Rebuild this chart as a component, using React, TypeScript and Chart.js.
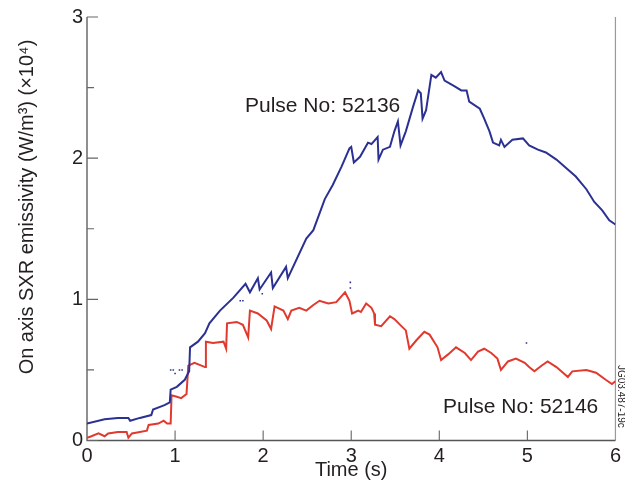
import React, { useEffect, useRef } from "react";
import { Chart, registerables } from "chart.js";

Chart.register(...registerables);

// Pulse No: 52136 (blue) — [time (s), emissivity (×10^4 W/m^3)]
const pulse52136: [number, number][] = [
  [0, 0.12], [0.2, 0.15], [0.35, 0.16], [0.47, 0.16], [0.49, 0.14], [0.6, 0.16],
  [0.73, 0.18], [0.75, 0.22], [0.88, 0.25], [0.94, 0.27], [0.95, 0.36], [1.02, 0.38],
  [1.11, 0.43], [1.16, 0.49], [1.17, 0.66], [1.26, 0.7], [1.34, 0.76], [1.39, 0.83],
  [1.51, 0.92], [1.66, 1.01], [1.8, 1.11], [1.85, 1.05], [1.94, 1.15], [1.96, 1.07],
  [2.09, 1.19], [2.11, 1.08], [2.26, 1.23], [2.28, 1.15], [2.49, 1.43], [2.57, 1.49],
  [2.7, 1.71], [2.79, 1.81], [2.89, 1.94], [2.98, 2.07], [3.0, 2.08], [3.03, 1.97],
  [3.1, 2.01], [3.19, 2.11], [3.23, 2.1], [3.3, 2.15], [3.31, 1.99], [3.36, 2.06],
  [3.44, 2.08], [3.49, 2.19], [3.53, 2.26], [3.56, 2.09], [3.62, 2.19], [3.7, 2.36],
  [3.76, 2.48], [3.79, 2.46], [3.81, 2.28], [3.85, 2.34], [3.91, 2.59], [3.96, 2.57],
  [4.02, 2.61], [4.06, 2.55], [4.17, 2.51], [4.25, 2.48], [4.31, 2.48], [4.34, 2.4],
  [4.46, 2.35], [4.51, 2.28], [4.57, 2.19], [4.61, 2.11], [4.68, 2.09], [4.7, 2.13],
  [4.74, 2.08], [4.83, 2.13], [4.95, 2.14], [5.02, 2.09], [5.12, 2.06], [5.21, 2.04],
  [5.33, 1.99], [5.44, 1.93], [5.55, 1.87], [5.67, 1.78], [5.76, 1.69], [5.85, 1.63],
  [5.93, 1.56], [6.0, 1.53],
];

// Pulse No: 52146 (red)
const pulse52146: [number, number][] = [
  [0, 0.02], [0.05, 0.03], [0.13, 0.05], [0.2, 0.03], [0.24, 0.05], [0.35, 0.06],
  [0.45, 0.06], [0.47, 0.02], [0.51, 0.05], [0.68, 0.07], [0.7, 0.11], [0.81, 0.12],
  [0.87, 0.14], [0.91, 0.12], [0.95, 0.12], [0.96, 0.32], [1.02, 0.31], [1.07, 0.3],
  [1.13, 0.33], [1.15, 0.53], [1.22, 0.55], [1.3, 0.53], [1.34, 0.52], [1.35, 0.7],
  [1.43, 0.69], [1.55, 0.7], [1.58, 0.65], [1.59, 0.83], [1.7, 0.84], [1.77, 0.82],
  [1.83, 0.73], [1.85, 0.92], [1.94, 0.9], [2.04, 0.85], [2.09, 0.79], [2.13, 0.95],
  [2.23, 0.92], [2.28, 0.86], [2.32, 0.92], [2.41, 0.94], [2.49, 0.92], [2.57, 0.96],
  [2.64, 0.99], [2.74, 0.97], [2.83, 0.98], [2.93, 1.05], [2.98, 0.99], [3.01, 0.9],
  [3.08, 0.92], [3.11, 0.91], [3.17, 0.97], [3.23, 0.94], [3.26, 0.9], [3.27, 0.82],
  [3.34, 0.81], [3.44, 0.88], [3.49, 0.86], [3.57, 0.81], [3.62, 0.78], [3.66, 0.65],
  [3.74, 0.71], [3.83, 0.77], [3.89, 0.75], [3.98, 0.66], [4.02, 0.57], [4.1, 0.61],
  [4.19, 0.66], [4.29, 0.62], [4.36, 0.57], [4.44, 0.63], [4.51, 0.65], [4.59, 0.62],
  [4.66, 0.58], [4.7, 0.5], [4.78, 0.56], [4.87, 0.58], [4.97, 0.55], [5.02, 0.52],
  [5.08, 0.49], [5.16, 0.53], [5.23, 0.56], [5.33, 0.52], [5.46, 0.45], [5.51, 0.49],
  [5.67, 0.5], [5.78, 0.48], [5.89, 0.43], [5.96, 0.4], [6.0, 0.42],
];

// stray blue sample points
const strayPoints: [number, number][] = [
  [0.95, 0.5], [0.98, 0.5], [1.05, 0.5], [1.08, 0.5], [1.0, 0.475],
  [1.74, 0.99], [1.77, 0.99], [1.99, 1.04], [2.99, 1.12], [2.99, 1.08], [4.99, 0.69],
];

const xTickValues = [0, 1, 2, 3, 4, 5, 6];
const yTickValues = [0, 1, 2, 3];
const yMinorTickValues = [0.5, 1.5, 2.5];
const xTitle = "Time (s)";
const yTitle = "On axis SXR emissivity (W/m\u00B3) (\u00D710\u2074)";
const labelBlue = "Pulse No: 52136";
const labelRed = "Pulse No: 52146";
const figureId = "JG03.487-19c";

const FONT = '"Liberation Sans", Arial, Helvetica, sans-serif';
const INK = "#231f20";
const BLUE = "#2b3192";
const RED = "#e03a2f";

const frame = {
  id: "frame",
  beforeDatasetsDraw(chart: any) {
    const { ctx, chartArea: a, scales } = chart;
    const x = scales.x;
    const y = scales.y;
    ctx.save();
    // right border
    ctx.strokeStyle = "#9a9a9a";
    ctx.lineWidth = 1.2;
    ctx.beginPath();
    ctx.moveTo(a.right, a.top);
    ctx.lineTo(a.right, a.bottom);
    ctx.stroke();
    // left + bottom axes
    ctx.strokeStyle = "#555";
    ctx.lineWidth = 1.3;
    ctx.beginPath();
    ctx.moveTo(a.left, a.top);
    ctx.lineTo(a.left, a.bottom);
    ctx.lineTo(a.right, a.bottom);
    ctx.stroke();
    // ticks
    ctx.lineWidth = 1.1;
    ctx.strokeStyle = "#666";
    ctx.beginPath();
    for (const v of yTickValues) {
      const py = y.getPixelForValue(v);
      ctx.moveTo(a.left, py);
      ctx.lineTo(a.left + 11, py);
    }
    for (const v of yMinorTickValues) {
      const py = y.getPixelForValue(v);
      ctx.moveTo(a.left, py);
      ctx.lineTo(a.left + 7, py);
    }
    for (const v of xTickValues) {
      if (v === 0 || v === 6) continue;
      const px = x.getPixelForValue(v);
      ctx.moveTo(px, a.bottom);
      ctx.lineTo(px, a.bottom - 10);
    }
    ctx.stroke();
    ctx.restore();
  },
  afterDraw(chart: any) {
    const { ctx, scales } = chart;
    const x = scales.x;
    ctx.save();
    ctx.fillStyle = INK;
    ctx.textBaseline = "alphabetic";
    // x title
    ctx.font = `20px ${FONT}`;
    ctx.textAlign = "center";
    ctx.fillText(xTitle, x.getPixelForValue(3), 476);
    // y title
    ctx.save();
    ctx.translate(33, 207);
    ctx.rotate(-Math.PI / 2);
    ctx.fillText(yTitle, 0, 0);
    ctx.restore();
    // series labels
    ctx.font = `21px ${FONT}`;
    ctx.textAlign = "left";
    ctx.fillText(labelBlue, 245, 112);
    ctx.fillText(labelRed, 443, 413);
    // figure id
    ctx.font = `10px ${FONT}`;
    ctx.save();
    ctx.translate(618, 365);
    ctx.rotate(Math.PI / 2);
    ctx.textAlign = "left";
    ctx.fillText(figureId, 0, 0);
    ctx.restore();
    ctx.restore();
  },
};

export default function App() {
  const ref = useRef<HTMLCanvasElement | null>(null);
  useEffect(() => {
    if (!ref.current) return;
    const chart = new Chart(ref.current, {
      type: "line",
      data: {
        datasets: [
          {
            label: labelBlue,
            data: pulse52136.map(([t, v]) => ({ x: t, y: v })),
            borderColor: BLUE,
            borderWidth: 2,
            pointRadius: 0,
            tension: 0,
          },
          {
            label: labelRed,
            data: pulse52146.map(([t, v]) => ({ x: t, y: v })),
            borderColor: RED,
            borderWidth: 2,
            pointRadius: 0,
            tension: 0,
          },
          {
            label: "stray",
            data: strayPoints.map(([t, v]) => ({ x: t, y: v })),
            showLine: false,
            pointStyle: "rect",
            pointRadius: 1.1,
            pointBorderWidth: 0,
            pointBackgroundColor: BLUE,
            borderColor: BLUE,
            backgroundColor: BLUE,
          },
        ],
      },
      options: {
        responsive: false,
        animation: false,
        events: [],
        layout: { padding: { left: 0, top: 17, right: 9, bottom: 0 } },
        plugins: {
          legend: { display: false },
          tooltip: { enabled: false },
          title: { display: false },
        },
        scales: {
          x: {
            type: "linear",
            min: 0,
            max: 6,
            border: { display: false },
            grid: { display: false, drawTicks: false },
            afterBuildTicks: (s: any) => {
              s.ticks = xTickValues.map((v) => ({ value: v }));
            },
            afterFit: (s: any) => {
              s.height = 47.5;
            },
            ticks: {
              padding: 4,
              color: INK,
              font: { family: FONT, size: 20 },
              maxRotation: 0,
              autoSkip: false,
            },
          },
          y: {
            type: "linear",
            min: 0,
            max: 3,
            border: { display: false },
            grid: { display: false, drawTicks: false },
            afterBuildTicks: (s: any) => {
              s.ticks = yTickValues.map((v) => ({ value: v }));
            },
            afterFit: (s: any) => {
              s.width = 87;
            },
            ticks: {
              padding: 4,
              color: INK,
              font: { family: FONT, size: 20 },
              autoSkip: false,
            },
          },
        },
      },
      plugins: [frame],
    });
    return () => chart.destroy();
  }, []);
  return (
    <div style={{ position: "absolute", left: 0, top: 0, width: 625, height: 488, background: "#fff" }}>
      <canvas ref={ref} width={625} height={488} />
    </div>
  );
}
